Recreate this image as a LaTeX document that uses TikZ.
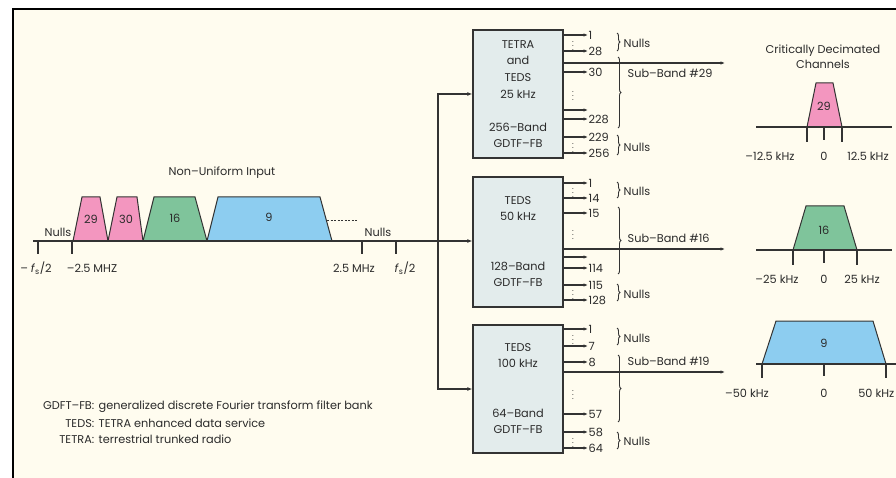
\documentclass[tikz,border=0pt]{standalone}
\usepackage{fontspec}
\setmainfont{Poppins}
\usepackage{tikz}
\usetikzlibrary{arrows.meta,positioning,decorations.pathreplacing}
\definecolor{cBg}{HTML}{FFFCEF}
\definecolor{cBox}{HTML}{E3ECEC}
\definecolor{cLine}{HTML}{333333}
\definecolor{cTxt}{HTML}{2B2B2B}
\definecolor{cPink}{HTML}{F396BF}
\definecolor{cGreen}{HTML}{7FC49B}
\definecolor{cBlue}{HTML}{8DCDF0}
\tikzset{
  fb/.style={rectangle, draw=cLine, line width=1.3pt, fill=cBox, minimum width=90pt, minimum height=128pt, align=center, text=cTxt, inner sep=0pt},
  lbl/.style={inner sep=0.5pt, text=cTxt},
  outlbl/.style={lbl, anchor=west},
  outarr/.style={-{Latex[length=4.5pt, width=3.5pt]}, line width=1.1pt, cLine},
  link/.style={-{Latex[length=5pt, width=4pt]}, line width=1.1pt, cLine},
  axln/.style={line width=1.2pt, cLine},
  tickln/.style={line width=1.1pt, cLine},
  band/.style={draw=cLine, line width=1pt},
  brc/.style={decorate, decoration={brace, amplitude=3pt}, line width=0.9pt, cLine},
  vd/.style={inner sep=0pt, text=cTxt, font=\fontsize{8}{8}\selectfont},
}

\begin{document}
\begin{tikzpicture}[x=1pt, y=-1pt, font=\fontsize{11.3}{13}\selectfont]
  \clip (0,0) rectangle (896,478);
  \fill[white] (0,0) rectangle (896,478);
  \draw[fill=cBg, line width=1.5pt] (13,9) rectangle (912,492);

  % input spectrum
  \node[lbl] (title) at (222,173) {Non–Uniform Input};
  \filldraw[band, fill=cPink] (73,241) -- (82,197) -- (100,197) -- (108,241) -- cycle;
  \filldraw[band, fill=cPink] (108,241) -- (117,197) -- (137,197) -- (143,241) -- cycle;
  \filldraw[band, fill=cGreen] (143,241) -- (154,197) -- (195,197) -- (207,241) -- cycle;
  \filldraw[band, fill=cBlue] (207,241) -- (218,197) -- (320,197) -- (332,241) -- cycle;
  \node[lbl] (in29) at (91,219) {29};
  \node[lbl] (in30) at (126,219) {30};
  \node[lbl] (in16) at (175,218) {16};
  \node[lbl] (in9) at (269,217) {9};
  \draw[cLine, line width=1pt, dash pattern=on 2pt off 1.5pt] (327,221) -- (358,221);
  \node[lbl, anchor=east] (nl) at (72,232) {Nulls};
  \node[lbl] (nr) at (378,232) {Nulls};
  \coordinate (ax0) at (33,241);
  \coordinate (split) at (438,241);
  \draw[axln] (ax0) -- (split);
  \draw[tickln] (38,241) -- (38,254);
  \draw[tickln] (72,241) -- (72,254);
  \draw[tickln] (362,241) -- (362,254);
  \draw[tickln] (396,241) -- (396,254);
  \node[lbl] (lfs) at (36,268) {– \textit{f}\textsubscript{s}/2};
  \node[lbl] (lmhz) at (92,268) {–2.5 MHZ};
  \node[lbl] (rmhz) at (354,268) {2.5 MHz};
  \node[lbl] (rfs) at (405,268) {\textit{f}\textsubscript{s}/2};

  % filter banks
  \node[fb, font=\fontsize{11.3}{16.7}\selectfont] (box1) at (518,94) {TETRA\\and\\TEDS\\25 kHz\\[16.3pt]256–Band\\GDTF–FB};
  \node[fb, minimum height=130pt, font=\fontsize{11.3}{16}\selectfont] (box2) at (518,242) {TEDS\\50 kHz\\[34pt]128–Band\\GDTF–FB};
  \node[fb, font=\fontsize{11.3}{16}\selectfont] (box3) at (518,389) {TEDS\\100 kHz\\[34pt]64–Band\\GDTF–FB};
  \draw[link] (split) -- (split -| box2.west);
  \draw[link] (split) |- (box1.west);
  \draw[link] (split) |- (box3.west);

  % outputs of the 256-band bank
  \node[outlbl] (a1) at (588,35) {1};
  \node[outlbl] (a28) at (588,51) {28};
  \node[outlbl] (a30) at (588,72) {30};
  \coordinate (au) at (588,110);
  \node[outlbl] (a228) at (588,119) {228};
  \node[outlbl] (a229) at (588,137) {229};
  \node[outlbl] (a256) at (588,153) {256};
  \coordinate (sb1) at (725,63);
  \draw[outarr] (box1.east |- a1.west) -- (a1.west);
  \draw[outarr] (box1.east |- a28.west) -- (a28.west);
  \draw[outarr] (box1.east |- a30.west) -- (a30.west);
  \draw[outarr] (box1.east |- au) -- (au);
  \draw[outarr] (box1.east |- a228.west) -- (a228.west);
  \draw[outarr] (box1.east |- a229.west) -- (a229.west);
  \draw[outarr] (box1.east |- a256.west) -- (a256.west);
  \draw[outarr] (box1.east |- sb1) -- (sb1);
  \node[vd] (ad1) at (573,43) {$\vdots$};
  \node[vd] (ad2) at (573,93) {$\vdots$};
  \node[vd] (ad3) at (573,145) {$\vdots$};
  \draw[brc] (617,33) -- (617,51);
  \draw[brc] (618,57) -- (618,128);
  \draw[brc] (617,135) -- (617,155);
  \node[lbl, anchor=west] (an1) at (623,43) {Nulls};
  \node[lbl, anchor=west] (an2) at (623,147) {Nulls};
  \node[lbl, anchor=west] (asb) at (627,73) {Sub–Band \#29};

  % outputs of the 128-band bank
  \node[outlbl] (b1) at (588,183) {1};
  \node[outlbl] (b14) at (588,198) {14};
  \node[outlbl] (b15) at (588,213) {15};
  \coordinate (bu) at (588,257);
  \node[outlbl] (b114) at (588,268) {114};
  \node[outlbl] (b115) at (588,285) {115};
  \node[outlbl] (b128) at (588,300) {128};
  \coordinate (sb2) at (725,249);
  \draw[outarr] (box2.east |- b1.west) -- (b1.west);
  \draw[outarr] (box2.east |- b14.west) -- (b14.west);
  \draw[outarr] (box2.east |- b15.west) -- (b15.west);
  \draw[outarr] (box2.east |- bu) -- (bu);
  \draw[outarr] (box2.east |- b114.west) -- (b114.west);
  \draw[outarr] (box2.east |- b115.west) -- (b115.west);
  \draw[outarr] (box2.east |- b128.west) -- (b128.west);
  \draw[outarr] (box2.east |- sb2) -- (sb2);
  \node[vd] (bd1) at (573,190) {$\vdots$};
  \node[vd] (bd2) at (573,232) {$\vdots$};
  \node[vd] (bd3) at (573,292) {$\vdots$};
  \draw[brc] (617,182) -- (617,198);
  \draw[brc] (618,207) -- (618,274);
  \draw[brc] (617,284) -- (617,301);
  \node[lbl, anchor=west] (bn1) at (623,191) {Nulls};
  \node[lbl, anchor=west] (bn2) at (623,294) {Nulls};
  \node[lbl, anchor=west] (bsb) at (627,238) {Sub–Band \#16};

  % outputs of the 64-band bank
  \node[outlbl] (c1) at (588,329) {1};
  \node[outlbl] (c7) at (588,346) {7};
  \node[outlbl] (c8) at (588,362) {8};
  \node[outlbl] (c57) at (588,414) {57};
  \node[outlbl] (c58) at (588,432) {58};
  \node[outlbl] (c64) at (588,448) {64};
  \coordinate (sb3) at (725,372);
  \draw[outarr] (box3.east |- c1.west) -- (c1.west);
  \draw[outarr] (box3.east |- c7.west) -- (c7.west);
  \draw[outarr] (box3.east |- c8.west) -- (c8.west);
  \draw[outarr] (box3.east |- c57.west) -- (c57.west);
  \draw[outarr] (box3.east |- c58.west) -- (c58.west);
  \draw[outarr] (box3.east |- c64.west) -- (c64.west);
  \draw[outarr] (box3.east |- sb3) -- (sb3);
  \node[vd] (cd1) at (573,337) {$\vdots$};
  \node[vd] (cd2) at (573,392) {$\vdots$};
  \node[vd] (cd3) at (573,440) {$\vdots$};
  \draw[brc] (617,328) -- (617,345);
  \draw[brc] (618,355) -- (618,422);
  \draw[brc] (617,432) -- (617,449);
  \node[lbl, anchor=west] (cn1) at (623,338) {Nulls};
  \node[lbl, anchor=west] (cn2) at (623,441) {Nulls};
  \node[lbl, anchor=west] (csb) at (627,361) {Sub–Band \#19};

  % decimated channels
  \node[lbl, align=center, font=\fontsize{11.3}{15}\selectfont] (crit) at (823,57) {Critically Decimated\\Channels};
  \filldraw[band, fill=cPink] (807,127) -- (816,83) -- (833,83) -- (842,127) -- cycle;
  \draw[axln] (756,127) -- (892,127);
  \draw[tickln] (807,127) -- (807,142);
  \draw[tickln] (824,127) -- (824,140);
  \draw[tickln] (842,127) -- (842,142);
  \node[lbl] (p29) at (824,106) {29};
  \node[lbl] (p1l) at (770,156) {–12.5 kHz};
  \node[lbl] (p1m) at (824,156) {0};
  \node[lbl] (p1r) at (868,156) {12.5 kHz};

  \filldraw[band, fill=cGreen] (793,250) -- (806,206) -- (844,206) -- (857,250) -- cycle;
  \draw[axln] (756,250) -- (892,250);
  \draw[tickln] (793,250) -- (793,265);
  \draw[tickln] (824,250) -- (824,263);
  \draw[tickln] (857,250) -- (857,265);
  \node[lbl] (p16) at (824,230) {16};
  \node[lbl] (p2l) at (777,279) {–25 kHz};
  \node[lbl] (p2m) at (824,279) {0};
  \node[lbl] (p2r) at (862,279) {25 kHz};

  \filldraw[band, fill=cBlue] (762,364) -- (776,321) -- (873,321) -- (886,364) -- cycle;
  \draw[axln] (756,364) -- (896,364);
  \draw[tickln] (762,364) -- (762,378);
  \draw[tickln] (824,364) -- (824,376);
  \draw[tickln] (886,364) -- (886,378);
  \node[lbl] (p9) at (824,343) {9};
  \node[lbl] (p3l) at (747,393) {–50 kHz};
  \node[lbl] (p3m) at (824,393) {0};
  \node[lbl, anchor=east] (p3r) at (895,393) {50 kHz};

  % legend
  \node[lbl, anchor=base east] (kg) at (95,409) {GDFT–FB:};
  \node[lbl, right=3pt of kg.base east, anchor=base west] (dg) {generalized discrete Fourier transform filter bank};
  \node[lbl, anchor=base east] (kt) at (95,427) {TEDS:};
  \node[lbl, right=3pt of kt.base east, anchor=base west] (dt) {TETRA enhanced data service};
  \node[lbl, anchor=base east] (kr) at (95,443) {TETRA:};
  \node[lbl, right=3pt of kr.base east, anchor=base west] (dr) {terrestrial trunked radio};
\end{tikzpicture}
\end{document}
